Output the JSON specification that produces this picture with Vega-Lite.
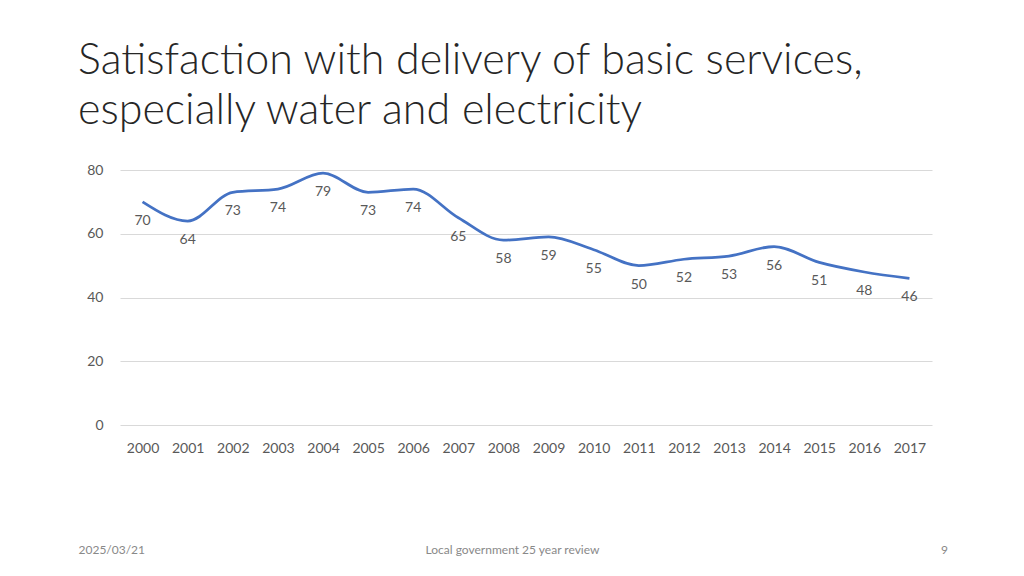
{
  "$schema": "https://vega.github.io/schema/vega-lite/v6.json",
  "autosize": "none",
  "padding": {"left": 120, "top": 170, "right": 92, "bottom": 151},
  "width": 812,
  "height": 255,
  "background": "white",
  "title": {
    "text": ["Satisfaction with delivery of basic services,", "especially water and electricity"],
    "anchor": "start",
    "frame": "group",
    "dx": -42,
    "offset": 30,
    "font": "Lato",
    "fontSize": 43,
    "fontWeight": 300,
    "lineHeight": 50,
    "color": "#262626"
  },
  "data": {
    "values": [
      {"year": "2000", "value": 70},
      {"year": "2001", "value": 64},
      {"year": "2002", "value": 73},
      {"year": "2003", "value": 74},
      {"year": "2004", "value": 79},
      {"year": "2005", "value": 73},
      {"year": "2006", "value": 74},
      {"year": "2007", "value": 65},
      {"year": "2008", "value": 58},
      {"year": "2009", "value": 59},
      {"year": "2010", "value": 55},
      {"year": "2011", "value": 50},
      {"year": "2012", "value": 52},
      {"year": "2013", "value": 53},
      {"year": "2014", "value": 56},
      {"year": "2015", "value": 51},
      {"year": "2016", "value": 48},
      {"year": "2017", "value": 46}
    ]
  },
  "encoding": {
    "x": {
      "field": "year",
      "type": "ordinal",
      "scale": {"type": "point", "padding": 0.5},
      "axis": {
        "labelAngle": 0,
        "labelFont": "Lato",
        "labelFontSize": 14,
        "labelColor": "#595959",
        "labelPadding": 16,
        "ticks": false,
        "domain": false,
        "grid": false,
        "title": "Local government 25 year review",
        "titleFont": "Lato",
        "titleFontSize": 12,
        "titleFontWeight": "normal",
        "titleColor": "#898989",
        "titleX": 392,
        "titleY": 128,
        "titleBaseline": "alphabetic",
        "titleAlign": "center"
      }
    },
    "y": {
      "field": "value",
      "type": "quantitative",
      "scale": {"domain": [0, 80]}
    }
  },
  "layer": [
    {
      "mark": {"type": "line", "interpolate": "monotone", "color": "#4472C4", "strokeWidth": 2.75},
      "encoding": {
        "y": {
          "field": "value",
          "type": "quantitative",
          "axis": {
            "values": [0, 20, 40, 60, 80],
            "labelFont": "Lato",
            "labelFontSize": 14,
            "labelColor": "#595959",
            "labelPadding": 17,
            "ticks": false,
            "domain": false,
            "gridColor": "#d9d9d9",
            "gridWidth": 1,
            "title": "2025/03/21",
            "titleFont": "Lato",
            "titleFontSize": 12,
            "titleFontWeight": "normal",
            "titleColor": "#898989",
            "titleAngle": 0,
            "titleAlign": "left",
            "titleBaseline": "alphabetic",
            "titleX": -42,
            "titleY": 383
          }
        }
      }
    },
    {
      "mark": {"type": "text", "dy": 19, "font": "Lato", "fontSize": 14, "color": "#595959"},
      "encoding": {
        "text": {"field": "value", "type": "quantitative"},
        "y": {
          "field": "value",
          "type": "quantitative",
          "axis": {
            "orient": "right",
            "labels": false,
            "ticks": false,
            "domain": false,
            "grid": false,
            "title": "9",
            "titleFont": "Lato",
            "titleFontSize": 12,
            "titleFontWeight": "normal",
            "titleColor": "#898989",
            "titleAngle": 0,
            "titleAlign": "center",
            "titleBaseline": "alphabetic",
            "titleX": 12,
            "titleY": 383
          }
        }
      }
    }
  ],
  "resolve": {"axis": {"y": "independent"}},
  "config": {"view": {"stroke": null}}
}
